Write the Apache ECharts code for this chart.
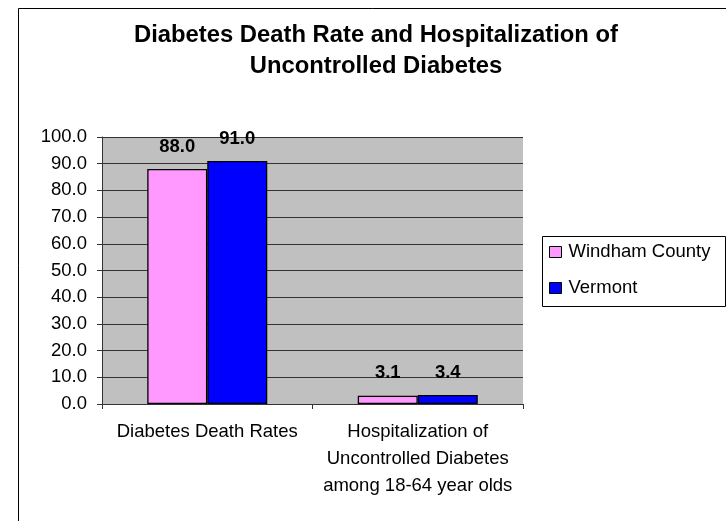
<!DOCTYPE html>
<html>
<head>
<meta charset="utf-8">
<script src="https://cdn.jsdelivr.net/npm/echarts@6/dist/echarts.min.js"></script>
<style>
html,body{margin:0;padding:0;background:#fff;}
#c{width:726px;height:521px;}
</style>
</head>
<body>
<div id="c"></div>
<script>
var categories = ['Diabetes Death Rates', 'Hospitalization of\nUncontrolled Diabetes\namong 18-64 year olds'];
var windham = [88.0, 3.1];
var vermont = [91.0, 3.4];
var seriesNames = ['Windham County', 'Vermont'];
var titleText = 'Diabetes Death Rate and Hospitalization of\nUncontrolled Diabetes';

var FONT = '"Liberation Sans", Arial, sans-serif';
var chart = echarts.init(document.getElementById('c'), null, {renderer: 'canvas'});

var labelCfg = {
  show: true,
  position: 'top',
  distance: 13,
  fontFamily: FONT,
  fontSize: 18.5,
  fontWeight: 'bold',
  color: '#000',
  formatter: function (p) { return p.value.toFixed(1); }
};

chart.setOption({
  animation: false,
  backgroundColor: '#fff',
  title: {
    text: titleText,
    left: 376,
    textAlign: 'center',
    top: 20,
    padding: 0,
    textStyle: {
      fontFamily: FONT,
      fontSize: 23.8,
      fontWeight: 'bold',
      color: '#000',
      lineHeight: 31
    }
  },
  graphic: [
    {
      type: 'rect',
      shape: {x: 18.5, y: 8.5, width: 800, height: 600},
      style: {fill: 'none', stroke: '#000', lineWidth: 1},
      silent: true, z: -1
    },
    {
      type: 'rect',
      shape: {x: 542.5, y: 236.5, width: 183, height: 70},
      style: {fill: '#fff', stroke: '#000', lineWidth: 1},
      silent: true, z: 0
    }
  ],
  legend: {
    orient: 'vertical',
    left: 549,
    top: 242,
    padding: 0,
    itemWidth: 12,
    itemHeight: 11,
    itemGap: 16,
    icon: 'rect',
    z: 10,
    itemStyle: {borderColor: '#000', borderWidth: 1},
    textStyle: {
      fontFamily: FONT,
      fontSize: 18.5,
      color: '#000',
      lineHeight: 20,
      padding: [0, 0, 0, 2]
    },
    data: seriesNames
  },
  grid: {
    left: 102,
    right: 203,
    top: 137,
    bottom: 117,
    show: true,
    backgroundColor: '#C0C0C0',
    borderWidth: 0
  },
  xAxis: {
    type: 'category',
    data: categories,
    boundaryGap: true,
    axisLine: {show: true, lineStyle: {color: '#333', width: 1}},
    axisTick: {show: true, length: 5, alignWithLabel: false, lineStyle: {color: '#333'}},
    axisLabel: {
      interval: 0,
      margin: 15,
      fontFamily: FONT,
      fontSize: 18.5,
      color: '#000',
      lineHeight: 26.7
    },
    splitLine: {show: false}
  },
  yAxis: {
    type: 'value',
    min: 0,
    max: 100,
    interval: 10,
    axisLine: {show: true, lineStyle: {color: '#333', width: 1}},
    axisTick: {show: true, length: 5, lineStyle: {color: '#333'}},
    axisLabel: {
      margin: 15,
      fontFamily: FONT,
      fontSize: 18.5,
      color: '#000',
      formatter: function (v) { return v.toFixed(1); }
    },
    splitLine: {show: true, lineStyle: {color: '#333', width: 1}}
  },
  series: [
    {
      name: seriesNames[0],
      type: 'bar',
      data: windham,
      barWidth: 60,
      barGap: '0%',
      itemStyle: {color: '#FF99FF', borderColor: '#000', borderWidth: 1.3},
      label: labelCfg
    },
    {
      name: seriesNames[1],
      type: 'bar',
      data: vermont,
      barWidth: 60,
      barGap: '0%',
      itemStyle: {color: '#0000FF', borderColor: '#000', borderWidth: 1.3},
      label: labelCfg
    }
  ]
});
</script>
</body>
</html>
